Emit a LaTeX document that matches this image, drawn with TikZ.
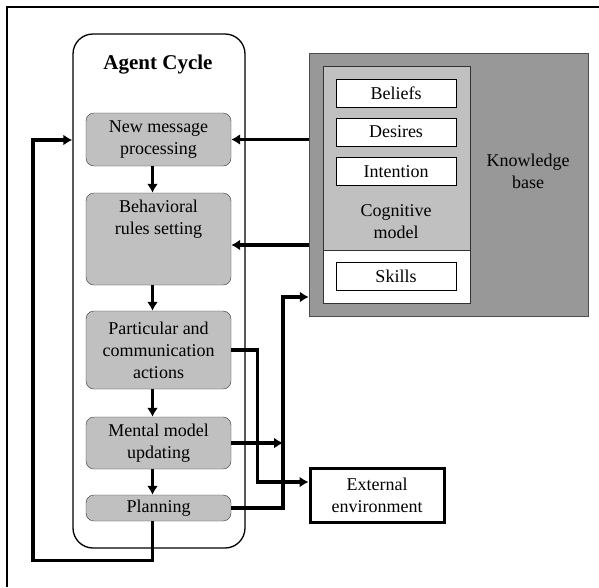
\documentclass[tikz,border=0pt]{standalone}
\usepackage{fontspec}
\setmainfont{Liberation Serif}
\usepackage{tikz}
\usetikzlibrary{arrows.meta,positioning}
\definecolor{boxgray}{RGB}{192,192,192}
\definecolor{kbgray}{RGB}{152,152,152}

\begin{document}
\begin{tikzpicture}[x=1pt,y=-1pt,>={Latex[length=9pt,width=11pt]},font=\fontsize{18}{22}\selectfont]
  \tikzstyle{act}=[draw=black!80,rounded corners=8pt,fill=boxgray,align=center,minimum width=145pt,inner sep=0pt]
  \tikzstyle{slot}=[draw,fill=white,minimum width=120pt,minimum height=28pt,inner sep=0pt]
  \tikzstyle{flow}=[->,line width=3.2pt]
  \useasboundingbox (0,0) rectangle (599,587);
  \draw[line width=1.4pt] (7,587) -- (7,7);
  \draw[line width=2.6pt] (6.3,7) -- (599,7);
  % agent cycle
  \node[draw,line width=1.3pt,rounded corners=20pt,minimum width=172pt,minimum height=514pt] (cycle) at (159,291) {};
  \node[font=\fontsize{21}{24}\selectfont\bfseries] (title) at (158,65) {Agent Cycle};
  \node[act,minimum height=53pt] (msg) at (158.5,139.5) {New message\\processing};
  \node[act,minimum height=92pt] (rules) at (158.5,239) {};
  \node[align=center,below=4pt of rules.north] (rulestext) {Behavioral\\rules setting};
  \node[act,minimum height=78pt] (acts) at (158.5,350) {Particular and\\communication\\actions};
  \node[act,minimum height=52pt] (upd) at (158.5,443) {Mental model\\updating};
  \node[act,minimum height=26pt] (plan) at (158.5,508) {Planning};
  % knowledge base
  \node[draw=black!70,fill=kbgray,minimum width=279pt,minimum height=263pt] (kb) at (448.5,184.5) {};
  \node[draw=black!80,fill=white,minimum width=147pt,minimum height=237pt] (mind) at (396.5,184.5) {};
  \node[draw=black!80,fill=boxgray,minimum width=147pt,minimum height=184pt] (cog) at (396.5,158) {};
  \node[slot] (beliefs) at (396,93) {Beliefs};
  \node[slot] (desires) at (396,132) {Desires};
  \node[slot] (intent) at (396,171.5) {Intention};
  \node[align=center] (cogtext) at (396,222) {Cognitive\\model};
  \node[slot] (skills) at (396,276.5) {Skills};
  \node[align=center] (kbtext) at (528,171) {Knowledge\\base};
  \node[draw,line width=3pt,minimum width=134pt,minimum height=54pt,align=center,inner sep=0pt] (ext) at (377,495) {External\\environment};
  % connectors
  \coordinate (bus) at (283,297);
  \coordinate (back) at (33,140);
  \foreach \a/\b in {msg/rules,rules/acts,acts/upd,upd/plan}
    \draw[flow] ([xshift=-6pt]\a.south) -- ([xshift=-6pt]\b.north);
  \draw[flow] (kb.west |- msg.east) -- (msg.east);
  \draw[flow] ([yshift=-6pt]kb.west |- rules.east) -- ([yshift=-6pt]rules.east);
  \draw[flow] (acts.east) -- ++(26,0) |- ([yshift=13pt]ext.west);
  \draw[flow] (upd.east) -- (upd.east -| bus);
  \draw[flow] (plan.east) -| (bus) -- (kb.west |- bus);
  \draw[flow] ([xshift=-6pt]plan.south) -- ++(0,39) -| (back) -- (cycle.west |- back);
\end{tikzpicture}
\end{document}
